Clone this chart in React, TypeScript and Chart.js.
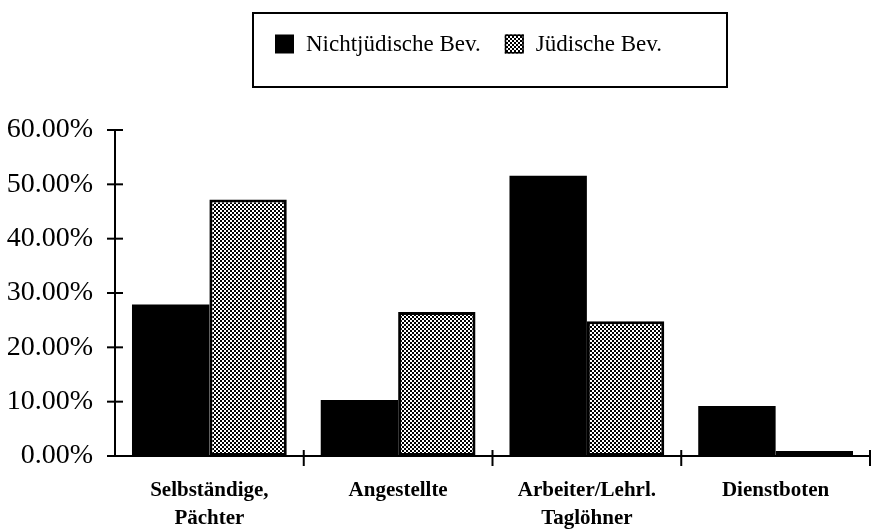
import React, { useEffect, useRef } from "react";
import { Chart, registerables } from "chart.js";

Chart.register(...registerables);

const categories: string[][] = [
  ["Selbständige,", "Pächter"],
  ["Angestellte"],
  ["Arbeiter/Lehrl.", "Taglöhner"],
  ["Dienstboten"],
];
const seriesNames = ["Nichtjüdische Bev.", "Jüdische Bev."];
const nonJewish = [27.9, 10.3, 51.6, 9.2];
const jewish = [47.2, 26.5, 24.8, 0.9];
const yMin = 0;
const yMax = 60;
const yStep = 10;

const FONT = '"Liberation Serif", "Times New Roman", serif';

function makePattern(): CanvasPattern | string {
  const c = document.createElement("canvas");
  c.width = 4;
  c.height = 4;
  const ctx = c.getContext("2d");
  if (!ctx) return "#888";
  ctx.fillStyle = "#ffffff";
  ctx.fillRect(0, 0, 4, 4);
  ctx.fillStyle = "#000000";
  ctx.fillRect(0, 0, 2, 2);
  ctx.fillRect(2, 2, 2, 2);
  return ctx.createPattern(c, "repeat") || "#888";
}

const axesPlugin = {
  id: "axesPlugin",
  afterDraw(chart: any) {
    const { ctx, chartArea, scales } = chart;
    const x = scales.x;
    const y = scales.y;
    ctx.save();
    ctx.strokeStyle = "#000";
    ctx.lineWidth = 2;
    ctx.lineCap = "butt";
    ctx.beginPath();
    ctx.moveTo(chartArea.left, chartArea.top);
    ctx.lineTo(chartArea.left, chartArea.bottom + 1);
    ctx.stroke();
    ctx.beginPath();
    ctx.moveTo(chartArea.left - 8, chartArea.bottom);
    ctx.lineTo(chartArea.right, chartArea.bottom);
    ctx.stroke();
    y.ticks.forEach((t: any) => {
      const py = y.getPixelForValue(t.value);
      ctx.beginPath();
      ctx.moveTo(chartArea.left - 8, py);
      ctx.lineTo(chartArea.left + 8, py);
      ctx.stroke();
    });
    const n = x.ticks.length;
    for (let i = 1; i <= n; i++) {
      const px = x.getPixelForValue(i - 0.5);
      ctx.beginPath();
      ctx.moveTo(px, chartArea.bottom - 6);
      ctx.lineTo(px, chartArea.bottom + 10);
      ctx.stroke();
    }
    ctx.restore();
  },
};

const boxLegendPlugin = {
  id: "boxLegend",
  afterDraw(chart: any) {
    const { ctx, chartArea } = chart;
    const left = chartArea.left + 138;
    const top = 13;
    const w = 474;
    const h = 74;
    ctx.save();
    ctx.lineWidth = 2;
    ctx.strokeStyle = "#000";
    ctx.strokeRect(left, top, w, h);
    ctx.font = `23px ${FONT}`;
    ctx.textBaseline = "middle";
    ctx.textAlign = "left";
    let xx = left + 22;
    const cy = top + 31;
    const sq = 19;
    chart.data.datasets.forEach((ds: any) => {
      ctx.fillStyle = ds.backgroundColor;
      ctx.fillRect(xx, cy - sq / 2, sq, sq);
      if (ds.borderWidth) {
        ctx.lineWidth = 1.5;
        ctx.strokeStyle = "#000";
        ctx.strokeRect(xx + 0.75, cy - sq / 2 + 0.75, sq - 1.5, sq - 1.5);
      }
      ctx.fillStyle = "#000";
      ctx.fillText(ds.label, xx + sq + 12, cy + 1);
      xx += sq + 12 + ctx.measureText(ds.label).width + 24;
    });
    ctx.restore();
  },
};

export default function App() {
  const ref = useRef<HTMLCanvasElement>(null);

  useEffect(() => {
    if (!ref.current) return;
    const pattern = makePattern();
    const chart = new Chart(ref.current, {
      type: "bar",
      data: {
        labels: categories,
        datasets: [
          {
            label: seriesNames[0],
            data: nonJewish,
            backgroundColor: "#000000",
            borderWidth: 0,
            categoryPercentage: 0.82,
            barPercentage: 1,
          },
          {
            label: seriesNames[1],
            data: jewish,
            backgroundColor: pattern as any,
            borderColor: "#000000",
            borderWidth: 3,
            borderSkipped: false,
            categoryPercentage: 0.82,
            barPercentage: 1,
          },
        ],
      },
      options: {
        responsive: false,
        animation: false,
        devicePixelRatio: 1,
        layout: { padding: { top: 130, left: 0, right: 1, bottom: 0 } },
        plugins: {
          legend: { display: false },
          tooltip: { enabled: false },
        },
        scales: {
          x: {
            offset: true,
            grid: { display: false, drawTicks: false },
            border: { display: false },
            afterFit: (s: any) => {
              s.height = 74;
            },
            ticks: {
              color: "#000",
              padding: 21,
              maxRotation: 0,
              font: { family: FONT, size: 21, weight: "bold", lineHeight: 1.32 },
            },
          },
          y: {
            min: yMin,
            max: yMax,
            grid: { display: false, drawTicks: false },
            border: { display: false },
            afterFit: (s: any) => {
              s.width = 115;
            },
            ticks: {
              stepSize: yStep,
              color: "#000",
              padding: 22,
              font: { family: FONT, size: 28 },
              callback: (v: any) => Number(v).toFixed(2) + "%",
            },
          },
        },
      },
      plugins: [axesPlugin, boxLegendPlugin],
    });
    return () => chart.destroy();
  }, []);

  return (
    <div style={{ position: "fixed", left: 0, top: 0, width: 871, height: 530, background: "#fff" }}>
      <canvas ref={ref} width={871} height={530} style={{ display: "block" }} />
    </div>
  );
}
